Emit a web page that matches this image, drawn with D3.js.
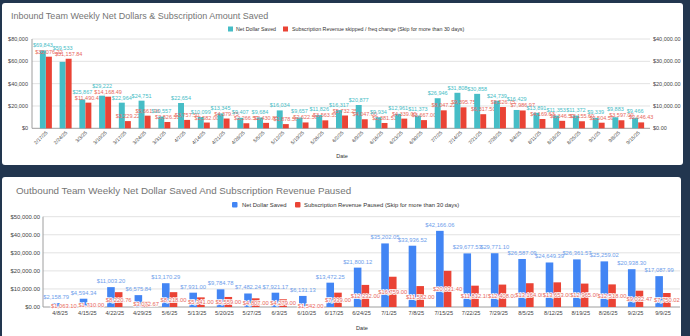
<!DOCTYPE html>
<meta charset="utf-8">
<script src="https://cdn.jsdelivr.net/npm/d3@7"></script>
<style>
body { margin: 0; background: #22364f; }
svg { display: block; font-family: "Liberation Sans", Arial, sans-serif; }
.grid line { stroke: #e2e2e2; stroke-width: 1px; }
.tick-lbl { fill: #444; }
</style>
<body>
<script>

// ---- inbound (top chart) ----
var inDates = ["2/17/25","2/24/25","3/3/25","3/10/25","3/17/25","3/24/25","3/31/25","4/7/25","4/14/25","4/21/25",
  "4/28/25","5/5/25","5/12/25","5/19/25","5/26/25","6/2/25","6/9/25","6/16/25","6/23/25","6/30/25",
  "7/7/25","7/14/25","7/21/25","7/28/25","8/4/25","8/11/25","8/18/25","8/25/25","9/1/25","9/8/25","9/15/25"];
var inNet = [69843,59533,25867,29222,22964,24751,10557,22654,10099,13345,
  9407,9684,16034,9657,11826,16317,20877,9934,12961,11373,
  26946,31808,30858,24739,16429,13891,11353,11372,9339,9883,9466];
var inSub = [32076.22,31157.84,11490.42,14168.49,3229.22,5661.96,2826.51,3757.50,2582.00,4379.75,
  2266.50,2430.85,1878.50,2622.50,3563.55,5732.25,4047.00,2381.51,4339.00,3667.00,
  8047.22,9395.75,6317.50,9526.75,7986.97,4169.63,3346.50,3155.60,2504.50,3597.00,2646.43];
var inLeftTicks = [0,20000,40000,60000,80000];
var inRightTicks = [0,10000,20000,30000,40000];

// ---- outbound (bottom chart) ----
var outDates = ["4/8/25","4/15/25","4/22/25","4/29/25","5/6/25","5/13/25","5/20/25","5/27/25","6/3/25","6/10/25",
  "6/17/25","6/24/25","7/1/25","7/8/25","7/15/25","7/22/25","7/29/25","8/5/25","8/12/25","8/19/25",
  "8/26/25","9/2/25","9/9/25"];
var outNet = [2158.79,4594.34,11003.20,6575.84,13170.29,7931.00,9784.78,7482.24,7921.17,6131.13,
  13472.25,21800.12,35202.05,33936.52,42166.06,29677.53,29771.10,26587.09,24649.39,26361.57,
  25259.02,20938.30,17087.99];
var outPaused = [1063.10,1710.00,8220.76,3072.67,8218.00,5341.00,5559.00,4807.00,4279.00,1542.00,
  7939.00,12232.00,16759.00,11582.00,20031.40,11812.10,12408.00,13164.00,13653.00,12965.00,
  12518.00,9032.47,7750.02];
var outTicks = [0,10000,20000,30000,40000,50000];

var teal = "#46bdc6", red = "#ea4335", blue = "#4285f4";
var W = 690, H = 336;

var svg = d3.select("body").append("svg").attr("width", W).attr("height", H);

// cards
svg.append("rect").attr("x", 2).attr("y", 3).attr("width", 681).attr("height", 162).attr("rx", 3).attr("fill", "#fff");
svg.append("rect").attr("x", 2).attr("y", 177).attr("width", 679).attr("height", 170).attr("rx", 3).attr("fill", "#fff");

var money0 = d3.format("$,.0f"), money2 = d3.format("$,.2f");

// ================= top chart =================
var topG = svg.append("g");
topG.append("text").attr("x", 11).attr("y", 19).attr("font-size", 9).attr("fill", "#757575")
  .text("Inbound Team Weekly Net Dollars & Subscription Amount Saved");

// legend
var lg = topG.append("g").attr("font-size", 5.3).attr("fill", "#333");
lg.append("rect").attr("x", 228).attr("y", 26.5).attr("width", 5).attr("height", 5).attr("fill", teal);
lg.append("text").attr("x", 236).attr("y", 31).text("Net Dollar Saved");
lg.append("rect").attr("x", 283).attr("y", 26.5).attr("width", 5).attr("height", 5).attr("fill", red);
lg.append("text").attr("x", 292).attr("y", 31).text("Subscription Revenue skipped / freq change (Skip for more than 30 days)");

var x1 = d3.scaleBand().domain(inDates).range([36, 648]).paddingInner(0.38).paddingOuter(0.19);
var xs1 = d3.scaleBand().domain(["net","sub"]).range([0, x1.bandwidth()]).padding(0.02);
var yL = d3.scaleLinear().domain([0, 80000]).range([128.3, 39]);
var yR = d3.scaleLinear().domain([0, 40000]).range([128.3, 39]);

topG.append("g").attr("class", "grid").selectAll("line").data(inLeftTicks).join("line")
  .attr("x1", 32).attr("x2", 650).attr("y1", d => yL(d)).attr("y2", d => yL(d))
  .style("stroke", d => d === 0 ? "#9e9e9e" : null);
topG.append("line").attr("x1", 32).attr("x2", 32).attr("y1", 39).attr("y2", 128.3).attr("stroke", "#9e9e9e");

topG.append("g").selectAll("text").data(inLeftTicks).join("text").attr("class", "tick-lbl")
  .attr("x", 28).attr("y", d => yL(d) + 2).attr("text-anchor", "end").attr("font-size", 5.5)
  .text(d => money0(d));
topG.append("g").selectAll("text").data(inRightTicks).join("text").attr("class", "tick-lbl")
  .attr("x", 653).attr("y", d => yR(d) + 2).attr("font-size", 5.5)
  .text(d => money2(d));

var g1 = topG.selectAll(".grp").data(inDates).join("g").attr("transform", d => "translate(" + x1(d) + ",0)");
g1.append("rect").attr("x", xs1("net")).attr("width", xs1.bandwidth())
  .attr("y", (d, i) => yL(inNet[i])).attr("height", (d, i) => yL(0) - yL(inNet[i])).attr("fill", teal);
g1.append("rect").attr("x", xs1("sub")).attr("width", xs1.bandwidth())
  .attr("y", (d, i) => yR(inSub[i])).attr("height", (d, i) => yR(0) - yR(inSub[i])).attr("fill", red);

// label positions: red sits just above its bar, teal lifted when the two would collide
function subLabelY(i) { return yR(inSub[i]) - 3; }
function netLabelY(i) {
  var ny = yL(inNet[i]) - 3, sy = subLabelY(i);
  return Math.abs(ny - sy) < 6 ? Math.min(ny, sy - 6) : ny;
}
g1.append("text").attr("x", xs1("net") + xs1.bandwidth() / 2).attr("y", (d, i) => netLabelY(i))
  .attr("text-anchor", "middle").attr("font-size", 5.5).attr("fill", teal).text((d, i) => money0(inNet[i]));
g1.append("text").attr("x", xs1("sub") + xs1.bandwidth() / 2).attr("y", (d, i) => subLabelY(i))
  .attr("text-anchor", "middle").attr("font-size", 5.5).attr("fill", "#e8685c").text((d, i) => money2(inSub[i]));

// rotated date labels
topG.append("g").selectAll("text").data(inDates).join("text").attr("class", "tick-lbl")
  .attr("font-size", 5).attr("text-anchor", "end")
  .attr("transform", d => "translate(" + (x1(d) + x1.bandwidth() / 2 + 2) + ",133) rotate(-45)")
  .text(d => d);
topG.append("text").attr("x", 342).attr("y", 158).attr("text-anchor", "middle").attr("font-size", 5.5)
  .attr("fill", "#333").text("Date");

// ================= bottom chart =================
var bot = svg.append("g");
bot.append("text").attr("x", 16).attr("y", 194).attr("font-size", 9.8).attr("fill", "#757575")
  .text("Outbound Team Weekly Net Dollar Saved And Subscription Revenue Paused");

var lg2 = bot.append("g").attr("font-size", 5.9).attr("fill", "#333");
lg2.append("rect").attr("x", 232).attr("y", 202).attr("width", 5.5).attr("height", 5.5).attr("rx", 1).attr("fill", blue);
lg2.append("text").attr("x", 242).attr("y", 206.8).text("Net Dollar Saved");
lg2.append("rect").attr("x", 295).attr("y", 202).attr("width", 5.5).attr("height", 5.5).attr("rx", 1).attr("fill", red);
lg2.append("text").attr("x", 304).attr("y", 206.8).text("Subscription Revenue Paused (Skip for more than 30 days)");

var x2 = d3.scaleBand().domain(outDates).range([46.3, 676.7]).paddingInner(0.43).paddingOuter(0.215);
var xs2 = d3.scaleBand().domain(["net","paused"]).range([0, x2.bandwidth()]).padding(0.02);
var y2 = d3.scaleLinear().domain([0, 50000]).range([307, 216.7]);

bot.append("g").attr("class", "grid").selectAll("line").data(outTicks).join("line")
  .attr("x1", 43).attr("x2", 680).attr("y1", d => y2(d)).attr("y2", d => y2(d))
  .style("stroke", d => d === 0 ? "#9e9e9e" : null);
bot.append("line").attr("x1", 43).attr("x2", 43).attr("y1", 216.7).attr("y2", 307).attr("stroke", "#9e9e9e");

bot.append("g").selectAll("text").data(outTicks).join("text").attr("class", "tick-lbl")
  .attr("x", 40).attr("y", d => y2(d) + 2).attr("text-anchor", "end").attr("font-size", 5.9)
  .text(d => money2(d));

var g2 = bot.selectAll(".grp2").data(outDates).join("g").attr("transform", d => "translate(" + x2(d) + ",0)");
g2.append("rect").attr("x", xs2("net")).attr("width", xs2.bandwidth())
  .attr("y", (d, i) => y2(outNet[i])).attr("height", (d, i) => y2(0) - y2(outNet[i])).attr("fill", blue);
g2.append("rect").attr("x", xs2("paused")).attr("width", xs2.bandwidth())
  .attr("y", (d, i) => y2(outPaused[i])).attr("height", (d, i) => y2(0) - y2(outPaused[i])).attr("fill", red);
g2.append("text").attr("x", xs2("net") + xs2.bandwidth() / 2).attr("y", (d, i) => y2(outNet[i]) - 4)
  .attr("text-anchor", "middle").attr("font-size", 5.8).attr("fill", "#6d9eeb").text((d, i) => money2(outNet[i]));
g2.append("text").attr("x", xs2("paused") + xs2.bandwidth() / 2)
  .attr("y", (d, i) => (y2(outPaused[i]) + y2(0)) / 2 + 2)
  .attr("text-anchor", "middle").attr("font-size", 5.8).attr("fill", "#e8685c")
  .attr("stroke", "#fff").attr("stroke-width", 1.6).attr("paint-order", "stroke")
  .text((d, i) => money2(outPaused[i]));

bot.append("g").selectAll("text").data(outDates).join("text").attr("class", "tick-lbl")
  .attr("x", d => x2(d) + x2.bandwidth() / 2).attr("y", 315).attr("text-anchor", "middle")
  .attr("font-size", 5.6).text(d => d);
bot.append("text").attr("x", 362).attr("y", 330).attr("text-anchor", "middle").attr("font-size", 5.6)
  .attr("fill", "#333").text("Date");

</script>
</body>
